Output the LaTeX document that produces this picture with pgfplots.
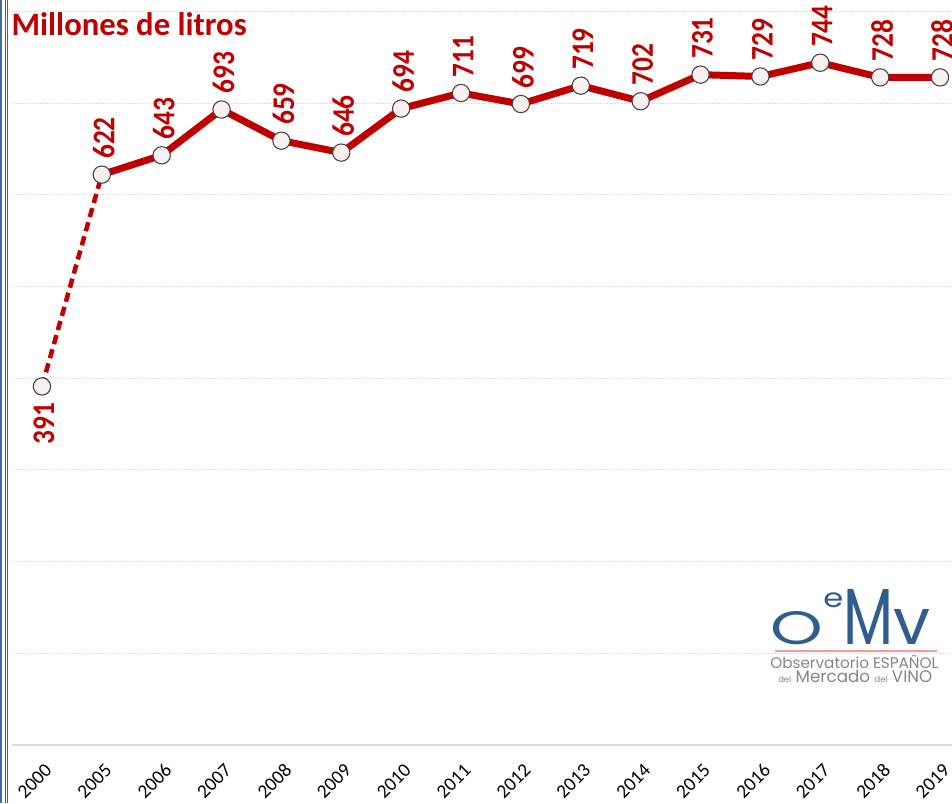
\documentclass[border=0pt]{standalone}
\usepackage{pgfplots}
\pgfplotsset{compat=1.18}
\usepackage{fontspec}
\setmainfont{Carlito}
\newfontfamily\logofont{Poppins}
\usepackage{graphicx}
\definecolor{wred}{HTML}{C00000}
\definecolor{mfill}{HTML}{F8EFEF}
\definecolor{mdraw}{HTML}{4A4040}
\definecolor{gridc}{HTML}{D9D9D9}
\definecolor{logoblue}{HTML}{2F5D8F}
\definecolor{logogray}{HTML}{858585}
\definecolor{borderblue}{HTML}{3B6EA5}
\definecolor{borderbrown}{HTML}{8B4B45}
\newcommand{\lbl}[1]{\rotatebox{90}{\scalebox{1}[1.15]{#1}}}
\begin{document}
\begin{tikzpicture}
\path[use as bounding box] (0,0) rectangle (714pt,-602.25pt);
\clip (0,0) rectangle (714pt,-602.25pt);
\begin{axis}[
  at={(9pt,-558.75pt)}, anchor=south west,
  scale only axis, width=705pt, height=558.75pt,
  xmin=-0.5, xmax=15.2, ymin=0, ymax=812.4,
  clip=false,
  axis line style={draw=none},
  tick style={draw=none},
  /pgf/number format/assume math mode=true,
  xtick={0,...,15},
  xticklabels={2000,2005,2006,2007,2008,2009,2010,2011,2012,2013,2014,2015,2016,2017,2018,2019},
  xticklabel style={font=\fontsize{14.5}{14.5}\selectfont, inner sep=0pt, xshift=1.5pt, yshift=-13pt, rotate=45, anchor=north east},
  ytick={100,200,...,800},
  yticklabels={},
  ymajorgrids,
  major grid style={densely dotted, color=gridc, line width=0.7pt},
  extra y ticks={0},
  extra y tick labels={},
  extra y tick style={grid=major, major grid style={solid, color=gridc, line width=1.3pt}},
]
\addplot[wred, line width=3.4pt, dash pattern=on 7pt off 4pt, forget plot] coordinates {(0,391) (1,622)};
\addplot[wred, line width=5.25pt, line join=round,
  mark=*, mark options={solid, fill=mfill, draw=mdraw, line width=0.8pt}, mark size=6.5pt,
  nodes near coords={\lbl{\pgfmathprintnumber{\pgfplotspointmeta}}},
  every node near coord/.style={font=\bfseries\fontsize{20.5}{20.5}\selectfont, text=wred, anchor=south, inner sep=0pt, yshift=11.5pt, xshift=1.5pt}]
coordinates {(1,622) (2,643) (3,693) (4,659) (5,646) (6,694) (7,711) (8,699) (9,719) (10,702) (11,731) (12,729) (13,744) (14,728) (15,728)};
\addplot[only marks, mark=*, mark options={solid, fill=mfill, draw=mdraw, line width=0.8pt}, mark size=6.5pt,
  nodes near coords={\lbl{\pgfmathprintnumber{\pgfplotspointmeta}}},
  every node near coord/.style={font=\bfseries\fontsize{20.5}{20.5}\selectfont, text=wred, anchor=north, inner sep=0pt, yshift=-12pt, xshift=1.5pt}]
coordinates {(0,391)};
\end{axis}
% left border
\draw[borderblue, line width=1.5pt] (0.75pt,0) -- (0.75pt,-602.25pt);
\draw[borderbrown, line width=0.9pt] (4.1pt,0) -- (4.1pt,-602.25pt);
\draw[borderbrown, line width=0.9pt] (5.9pt,0) -- (5.9pt,-602.25pt);
% title
\node[anchor=base west, inner sep=0pt, text=wred, font=\bfseries\fontsize{24.5}{24.5}\selectfont] at (8.5pt,-26.5pt) {Millones de litros};
% logo
\node[anchor=south west, inner sep=0pt, text=logoblue] at (578pt,-484pt) {\resizebox*{39.5pt}{25pt}{\logofont O}};
\node[anchor=south west, inner sep=0pt, text=logoblue] at (617.25pt,-456pt) {\resizebox*{15pt}{11.25pt}{\logofont e}};
\node[anchor=south west, inner sep=0pt, text=logoblue] at (632.25pt,-483.75pt) {\resizebox*{37.5pt}{41.25pt}{\logofont M}};
\node[anchor=south west, inner sep=0pt, text=logoblue] at (669.75pt,-483.75pt) {\resizebox*{27.75pt}{26.25pt}{\logofont v}};
\draw[color={rgb,255:red,230;green,160;blue,160}, line width=0.9pt] (581.25pt,-488.25pt) -- (702.75pt,-488.25pt);
\node[anchor=north west, inner sep=0pt, text=logogray] at (577.5pt,-491.5pt) {\resizebox{126pt}{!}{\logofont Observatorio ESPAÑOL}};
\node[anchor=north west, inner sep=0pt, text=logogray] at (583.5pt,-502.5pt) {\resizebox{115.5pt}{!}{\logofont {\tiny del} Mercado {\tiny del} VINO}};
\end{tikzpicture}
\end{document}
